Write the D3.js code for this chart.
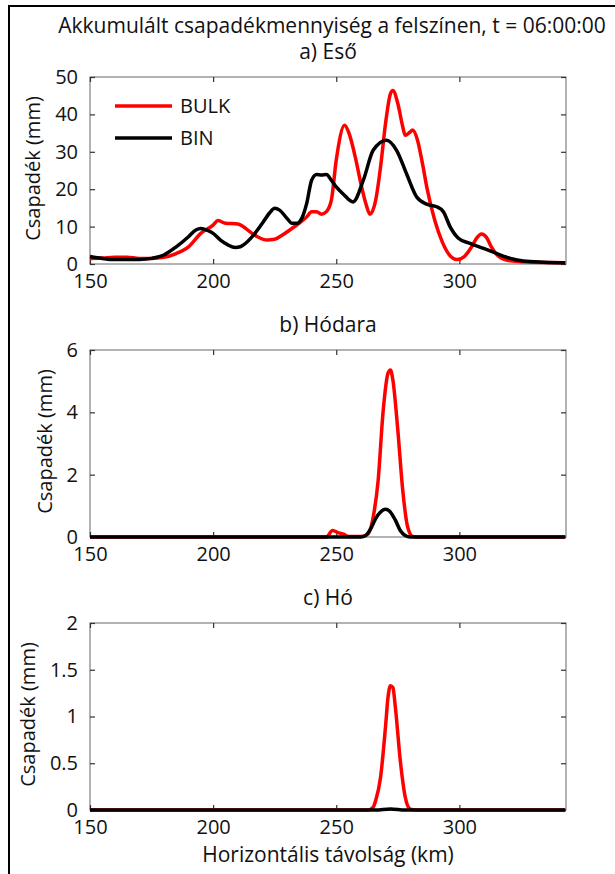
<!DOCTYPE html>
<meta charset="utf-8">
<title>Csapadék</title>
<style>
body { margin: 0; background: #fff; }
svg { display: block; }
text { font-family: "Open Sans", sans-serif; fill: #111; }
.tick text { font-size: 20px; }
.ttl { font-size: 21px; text-anchor: middle; }
</style>
<svg width="615" height="874"></svg>
<script src="https://d3js.org/d3.v7.min.js"></script>
<script>

// a) Eső (eső, mm)
var rainBulkKm = [150,155,160,165,170,175,180,185,190,195,200,202,205,210,212,215,218,222,225,228,232,235,238,240,242,244,246,248,250,253.4,255,258,260,262,263.7,266,268,270,272,273,275,277,278,280,281,283,285,287,290,293,296,299,302,305,307,309,311,313,316,320,325,330,343];
var rainBulk   = [1.5,1.6,1.8,1.8,1.5,1.5,1.8,2.8,4.6,8.2,10.4,11.6,10.9,10.7,10.1,8.6,7.3,6.4,6.6,7.7,9.5,10.9,12.6,14.0,14.0,13.3,14.0,17,27.8,37.1,35.3,27.8,21.5,16.2,13.3,17,26,37.5,45.5,46.4,42.9,36.7,34.4,35.3,35.8,33.1,26.9,19.8,11.7,6.0,2.4,1.2,2.0,4.6,6.9,8.0,7.1,4.6,2.0,0.9,0.6,0.45,0.35];
var rainBinKm  = [150,155,160,170,175,180,185,190,193,195,198,200,203,206,209,211,214,217,220,223,225,227,230,232,234,236,238,240,242,244,246,248,250,253,256.8,261,265,270.4,274.5,278.5,282.6,286.7,290.8,293.5,296.2,299.6,304.3,309.8,315.2,320.7,326,334.2,343];
var rainBin    = [2.0,1.5,1.2,1.2,1.5,2.4,4.6,7.3,9.1,9.5,8.9,8.2,6.4,5.1,4.4,4.6,6.0,8.2,10.9,13.7,14.9,14.4,12.2,10.9,10.9,12.2,16.2,22.4,23.9,23.8,23.9,22.4,20.6,18.6,16.6,22.4,30.4,33.1,30.4,24.2,18,16,15.3,14,10,6.9,5.5,4.2,2.8,1.5,0.8,0.5,0.35];

// b) Hódara
var graupelBulkKm = [150,246,248.5,251,253,255,260,263,265,267,269,271,272,273,275,277,279,281,283,343];
var graupelBulk   = [0,0,0.21,0.13,0.09,0.02,0.02,0.1,0.64,1.8,4.0,5.25,5.36,5.04,3.43,1.5,0.32,0.02,0,0];
var graupelBinKm  = [150,260,262,264,266,268,270,272,274,276,278,280,343];
var graupelBin    = [0,0,0.05,0.27,0.59,0.8,0.89,0.8,0.54,0.21,0.05,0,0];

// c) Hó
var snowBulkKm = [150,263,265,266,268,270,271,272,273,274,276,278,280,282,343];
var snowBulk   = [0,0,0.03,0.1,0.35,0.89,1.2,1.33,1.31,1.1,0.53,0.14,0.01,0,0];
var snowBinKm  = [150,266,272,278,343];
var snowBin    = [0,0,0.012,0,0];

var xTicks = [150, 200, 250, 300];
var yTicksA = [0, 10, 20, 30, 40, 50];
var yTicksB = [0, 2, 4, 6];
var yTicksC = [0, 0.5, 1, 1.5, 2];
var seriesNames = ["BULK", "BIN"];
var seriesColors = ["#ff0000", "#000000"];

var panels = [
  { title: "a) Eső",    top: 77,  yMax: 50, ticks: yTicksA, bulk: [rainBulkKm, rainBulk],       bin: [rainBinKm, rainBin] },
  { title: "b) Hódara", top: 350, yMax: 6,  ticks: yTicksB, bulk: [graupelBulkKm, graupelBulk], bin: [graupelBinKm, graupelBin] },
  { title: "c) Hó",     top: 623, yMax: 2,  ticks: yTicksC, bulk: [snowBulkKm, snowBulk],       bin: [snowBinKm, snowBin] }
];

var svg = d3.select("svg");
var left = 90, right = 566, ph = 187;
var fmt = d3.format("~g");

// outer frame (only top and left edges are visible)
svg.append("path")
  .attr("d", "M9,874V6H615")
  .attr("fill", "none")
  .attr("stroke", "#000")
  .attr("stroke-width", 2);

svg.append("text").attr("class", "ttl")
  .attr("x", 332).attr("y", 33)
  .text("Akkumulált csapadékmennyiség a felszínen, t = 06:00:00");

var x = d3.scaleLinear().domain([150, 343.3]).range([left, right]);

panels.forEach(function(p, pi) {
  var y = d3.scaleLinear().domain([0, p.yMax]).range([p.top + ph, p.top]);
  var g = svg.append("g");

  g.append("text").attr("class", "ttl")
    .attr("x", 328).attr("y", p.top - 18)
    .text(p.title);

  g.append("rect")
    .attr("x", left).attr("y", p.top)
    .attr("width", right - left).attr("height", ph)
    .attr("fill", "none").attr("stroke", "#808080").attr("stroke-width", 1.2);

  var ax = [
    d3.axisBottom(x).tickValues(xTicks).tickSizeInner(-5).tickSizeOuter(0).tickPadding(10),
    d3.axisTop(x).tickValues(xTicks).tickSizeInner(-5).tickSizeOuter(0).tickFormat(""),
    d3.axisLeft(y).tickValues(p.ticks).tickSizeInner(-5).tickSizeOuter(0).tickPadding(12).tickFormat(fmt),
    d3.axisRight(y).tickValues(p.ticks).tickSizeInner(-5).tickSizeOuter(0).tickFormat("")
  ];
  var pos = ["translate(0," + (p.top + ph) + ")", "translate(0," + p.top + ")",
             "translate(" + left + ",0)", "translate(" + right + ",0)"];
  var yAxisG;
  ax.forEach(function(a, i) {
    var ag = g.append("g").attr("transform", pos[i]).call(a);
    ag.select(".domain").remove();
    ag.selectAll(".tick line").attr("stroke", "#333").attr("stroke-width", 1.2);
    ag.selectAll(".tick text").attr("fill", "#111");
    if (i === 2) yAxisG = ag;
  });

  // y label sits just left of the widest tick label, like MATLAB does
  var maxW = d3.max(yAxisG.selectAll(".tick text").nodes(), function(n) { return n.getComputedTextLength(); });
  var labelX = left - 12 - maxW - 15;

  g.append("text")
    .attr("transform", "translate(" + labelX + "," + (p.top + ph / 2 - 2) + ") rotate(-90)")
    .attr("text-anchor", "middle")
    .style("font-size", "20px")
    .text("Csapadék (mm)");

  var line = d3.line()
    .x(function(d) { return x(d[0]); })
    .y(function(d) { return y(d[1]); })
    .curve(d3.curveMonotoneX);

  [p.bulk, p.bin].forEach(function(s, si) {
    var pts = s[0].map(function(k, i) { return [k, s[1][i]]; });
    g.append("path")
      .datum(pts)
      .attr("d", line)
      .attr("fill", "none")
      .attr("stroke", seriesColors[si])
      .attr("stroke-width", 3.5)
      .attr("stroke-linejoin", "round");
  });

  if (pi === 0) {
    var lg = g.append("g");
    seriesNames.forEach(function(n, i) {
      var ly = 106 + i * 32;
      lg.append("line")
        .attr("x1", 115).attr("x2", 172).attr("y1", ly).attr("y2", ly)
        .attr("stroke", seriesColors[i]).attr("stroke-width", 3.5);
      lg.append("text")
        .attr("x", 180).attr("y", ly + 7)
        .style("font-size", "20px")
        .text(n);
    });
  }
});

svg.append("text").attr("class", "ttl")
  .attr("x", 328).attr("y", 862)
  .text("Horizontális távolság (km)");

</script>
